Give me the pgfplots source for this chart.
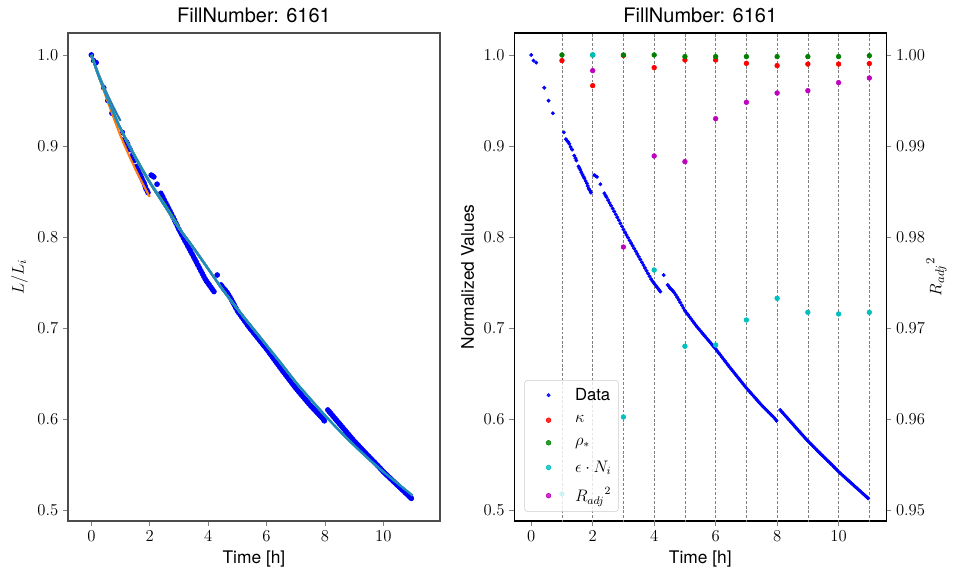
\documentclass[border=0pt]{standalone}
\usepackage{fontspec}
\setmainfont{TeX Gyre Heros}
\usepackage{pgfplots}
\pgfplotsset{compat=1.18}
\usepackage{pgfplotstable}

\definecolor{tabblue}{HTML}{1F77B4}
\definecolor{taborange}{HTML}{FF7F0E}
\definecolor{tabgreen}{HTML}{2CA02C}
\definecolor{tabred}{HTML}{D62728}
\definecolor{tabpurple}{HTML}{9467BD}
\definecolor{tabbrown}{HTML}{8C564B}
\definecolor{tabpink}{HTML}{E377C2}
\definecolor{tabgray}{HTML}{7F7F7F}
\definecolor{tabolive}{HTML}{BCBD22}
\definecolor{tabcyan}{HTML}{17BECF}
\definecolor{mplgreen}{rgb}{0,0.5,0}
\definecolor{mplcyan}{rgb}{0,0.75,0.75}
\definecolor{mplmag}{rgb}{0.75,0,0.75}

\pgfplotstableread{
t v
0 1.0
0.076 0.9938
0.163 0.9916
0.423 0.964
0.564 0.9498
0.705 0.936
1.06 0.915
1.13 0.9075
1.16 0.906
1.20 0.9045
1.24 0.9024
1.28 0.899
1.33 0.896
1.40 0.8894
1.44 0.8865
1.47 0.884
1.54 0.8775
1.57 0.8755
1.60 0.8736
1.63 0.871
1.67 0.8685
1.70 0.8663
1.73 0.8645
1.77 0.8615
1.81 0.859
1.84 0.856
1.87 0.853
1.91 0.851
1.94 0.8487
2.05 0.868
2.09 0.8672
2.14 0.866
2.25 0.858
2.38 0.8480
2.42 0.8455
2.45 0.8437
2.5 0.8405
2.55 0.8374
2.6 0.8343
2.65 0.8312
2.7 0.8280
2.75 0.8249
2.8 0.8217
2.85 0.8184
2.9 0.8150
2.95 0.8117
3.0 0.8083
3.05 0.8052
3.1 0.8022
3.15 0.7992
3.2 0.7962
3.25 0.7933
3.3 0.7903
3.35 0.7873
3.4 0.7843
3.45 0.7813
3.5 0.7783
3.55 0.7753
3.6 0.7722
3.65 0.7691
3.7 0.7660
3.75 0.7629
3.8 0.7598
3.85 0.7568
3.9 0.7537
3.95 0.7512
4.0 0.7490
4.05 0.7468
4.1 0.7445
4.15 0.7422
4.2 0.7400
4.31 0.7582
4.44 0.7473
4.48 0.7455
4.52 0.7436
4.56 0.7424
4.6 0.7410
4.65 0.7390
4.7 0.7365
4.75 0.7338
4.8 0.7310
4.85 0.7280
4.9 0.7250
4.95 0.7220
5.0 0.7190
5.05 0.7167
5.1 0.7145
5.15 0.7122
5.2 0.7100
5.25 0.7077
5.3 0.7055
5.35 0.7032
5.4 0.7010
5.45 0.6990
5.5 0.6970
5.55 0.6950
5.6 0.6930
5.65 0.6910
5.7 0.6890
5.75 0.6870
5.8 0.6850
5.85 0.6830
5.9 0.6810
5.95 0.6790
6.0 0.6770
6.05 0.6748
6.1 0.6726
6.15 0.6704
6.2 0.6682
6.25 0.6660
6.3 0.6638
6.35 0.6616
6.4 0.6594
6.45 0.6572
6.5 0.6550
6.55 0.6529
6.6 0.6508
6.65 0.6487
6.7 0.6466
6.75 0.6445
6.8 0.6424
6.85 0.6403
6.9 0.6382
6.95 0.6361
7.0 0.6340
7.05 0.6321
7.1 0.6302
7.15 0.6283
7.2 0.6264
7.25 0.6245
7.3 0.6226
7.35 0.6207
7.4 0.6188
7.45 0.6169
7.5 0.6150
7.55 0.6133
7.6 0.6116
7.65 0.6099
7.7 0.6082
7.75 0.6065
7.8 0.6048
7.85 0.6031
7.9 0.6014
7.95 0.5995
7.98 0.5980
8.1 0.6099
8.15 0.6080
8.2 0.6061
8.25 0.6042
8.3 0.6023
8.35 0.6004
8.4 0.5985
8.45 0.5966
8.5 0.5947
8.55 0.5928
8.6 0.5909
8.65 0.5890
8.7 0.5871
8.75 0.5852
8.8 0.5833
8.85 0.5814
8.9 0.5795
8.95 0.5776
9.0 0.5758
9.05 0.5741
9.1 0.5724
9.15 0.5707
9.2 0.5690
9.25 0.5673
9.3 0.5656
9.35 0.5639
9.4 0.5622
9.45 0.5605
9.5 0.5589
9.55 0.5572
9.6 0.5556
9.65 0.5539
9.7 0.5523
9.75 0.5506
9.8 0.5490
9.85 0.5473
9.9 0.5456
9.95 0.5438
10.0 0.5421
10.05 0.5405
10.1 0.5390
10.15 0.5375
10.2 0.5360
10.25 0.5344
10.3 0.5329
10.35 0.5314
10.4 0.5299
10.45 0.5283
10.5 0.5268
10.55 0.5253
10.6 0.5238
10.65 0.5223
10.7 0.5208
10.75 0.5192
10.8 0.5177
10.85 0.5162
10.9 0.5147
10.93 0.5138
10.96 0.5128
}\datatab

\pgfplotstableread{
t v
0 1.000
0.25 0.977
0.5 0.957
0.75 0.937
1.0 0.919
1.5 0.888
2.0 0.860
2.5 0.835
3.0 0.810
3.5 0.788
4.0 0.765
4.5 0.742
5.0 0.721
5.5 0.701
6.0 0.681
6.5 0.661
7.0 0.6405
7.5 0.622
8.0 0.604
8.5 0.587
9.0 0.571
9.5 0.556
10.0 0.542
10.5 0.529
11.0 0.516
}\fittab

\pgfplotsset{
  panel/.style={
    scale only axis, width=267.8pt, height=351.4pt,
    tick align=outside, major tick length=3.5pt,
    every tick/.append style={line width=0.6pt},
    tick label style={font=\fontsize{12.5}{14}\selectfont},
    label style={font=\fontsize{12.5}{14}\selectfont},
    title style={font=\fontsize{14.4}{16}\selectfont, yshift=-2pt},
    ymin=0.4879, ymax=1.0242,
    scaled y ticks=false,
    clip=true,
  },
  ytick1/.style={
    ytick={0.5,0.6,0.7,0.8,0.9,1.0},
    yticklabel style={/pgf/number format/.cd, fixed, fixed zerofill, precision=1},
  },
  dots/.style={draw=none, mark=*, mark size=#1},
  fitline/.style={line width=1.5pt, smooth, tension=0.5},
}

\begin{document}
\begin{tikzpicture}
\path[use as bounding box] (0,0) rectangle (686.16pt,416.16pt);

% ---------------- left panel ----------------
\begin{axis}[panel, ytick1,
  at={(48.96pt,41.04pt)}, anchor=south west,
  xmin=-0.8, xmax=11.94, xtick={0,2,4,6,8,10},
  tick pos=left, clip marker paths=true,
  axis line style={black!70, line width=0.8pt},
  title={FillNumber: 6161},
  xlabel={Time [h]}, ylabel={$L/L_i$},
]
\addplot[dots=1.8pt, mark options={draw=blue, fill=blue}] table[x=t,y=v] {\datatab};
\addplot[tabblue, fitline] coordinates {(0,1.0)(0.25,0.979)(0.5,0.960)(0.75,0.943)(1.0,0.9275)};
\addplot[taborange, fitline] coordinates {(0,1.0)(0.5,0.954)(1.0,0.911)(1.5,0.875)(2.0,0.844)};
\addplot[tabgreen, fitline] coordinates {(0,1.0)(0.5,0.957)(1.0,0.919)(1.5,0.889)(2.0,0.861)(2.5,0.837)(3.0,0.8115)};
\addplot[tabred, fitline, restrict x to domain=0:4.01] table[x=t,y=v] {\fittab};
\addplot[tabpurple, fitline, restrict x to domain=0:5.01] table[x=t,y=v] {\fittab};
\addplot[tabbrown, fitline, restrict x to domain=0:6.01] table[x=t,y=v] {\fittab};
\addplot[tabpink, fitline, restrict x to domain=0:7.01] table[x=t,y=v] {\fittab};
\addplot[tabgray, fitline, restrict x to domain=0:8.01] table[x=t,y=v] {\fittab};
\addplot[tabolive, fitline, restrict x to domain=0:9.01] table[x=t,y=v] {\fittab};
\addplot[tabcyan, fitline, restrict x to domain=0:10.01] table[x=t,y=v] {\fittab};
\addplot[tabblue!70!tabcyan, fitline, line width=1.7pt] table[x=t,y=v] {\fittab};
\end{axis}

% ---------------- right panel (left scale) ----------------
\begin{axis}[panel, ytick1,
  at={(370.3pt,41.04pt)}, anchor=south west,
  xmin=-0.55, xmax=11.55, xtick={0,2,4,6,8,10},
  tick pos=left,
  axis line style={black, line width=0.8pt},
  title={FillNumber: 6161},
  xlabel={Time [h]}, ylabel={Normalized Values},
  legend style={at={(0.027,0.019)}, anchor=south west,
    draw=black!20, rounded corners=2pt, fill=white, fill opacity=0.8,
    text opacity=1, draw opacity=1, row sep=5.6pt,
    inner xsep=3pt, inner ysep=3.5pt,
    font=\fontsize{12}{13}\selectfont, cells={anchor=west}},
  legend image code/.code={\path (0cm,0cm) (1.1cm,0cm); \draw[#1] plot coordinates {(0.5cm,0cm)};},
]
\pgfplotsinvokeforeach{1,...,11}{
  \addplot[forget plot, black!50, dash pattern=on 2pt off 1.3pt, line width=0.45pt] coordinates {(#1,0.3)(#1,1.2)};
}
\addplot[dots=1.2pt, mark options={draw=blue, fill=blue}] table[x=t,y=v] {\datatab};
\addlegendentry{Data}
\addplot[dots=1.7pt, mark options={draw=red, fill=red}] coordinates {
(1,0.9938)(2,0.9663)(3,0.9995)(4,0.9861)(5,0.9945)(6,0.9945)(7,0.9908)(8,0.9883)(9,0.9900)(10,0.9900)(11,0.9905)};
\addlegendentry{$\kappa$}
\addplot[dots=1.7pt, mark options={draw=mplgreen, fill=mplgreen}] coordinates {
(1,1.0)(2,1.0)(3,1.0)(4,1.0)(5,0.9982)(6,0.9982)(7,0.9982)(8,0.9982)(9,0.9982)(10,0.9982)(11,0.9992)};
\addlegendentry{$\rho_*$}
\addplot[dots=1.7pt, mark options={draw=mplcyan, fill=mplcyan}] coordinates {
(1,0.5176)(2,1.0)(3,0.6022)(4,0.7637)(5,0.6799)(6,0.6813)(7,0.7088)(8,0.7326)(9,0.7172)(10,0.7154)(11,0.7172)};
\addlegendentry{$\epsilon\cdot N_i$}
\addlegendimage{dots=1.7pt, mark options={draw=mplmag, fill=mplmag}}
\addlegendentry{${R_{adj}}^2$}
\end{axis}

% ---------------- right panel (right scale) ----------------
\begin{axis}[panel,
  at={(370.3pt,41.04pt)}, anchor=south west,
  xmin=-0.55, xmax=11.55,
  axis x line=none, axis y line*=right,
  axis line style={black, line width=0.8pt},
  ymin=0.94879, ymax=1.00242,
  ytick={0.95,0.96,0.97,0.98,0.99,1.00},
  yticklabel style={/pgf/number format/.cd, fixed, fixed zerofill, precision=2},
  ylabel={${R_{adj}}^2$}, ylabel shift=-6pt,
]
\addplot[dots=1.7pt, mark options={draw=mplmag, fill=mplmag}] coordinates {
(2,0.99828)(3,0.9789)(4,0.9889)(5,0.98828)(6,0.9930)(7,0.9948)(8,0.99582)(9,0.99608)(10,0.99696)(11,0.99747)};
\end{axis}
\end{tikzpicture}
\end{document}
